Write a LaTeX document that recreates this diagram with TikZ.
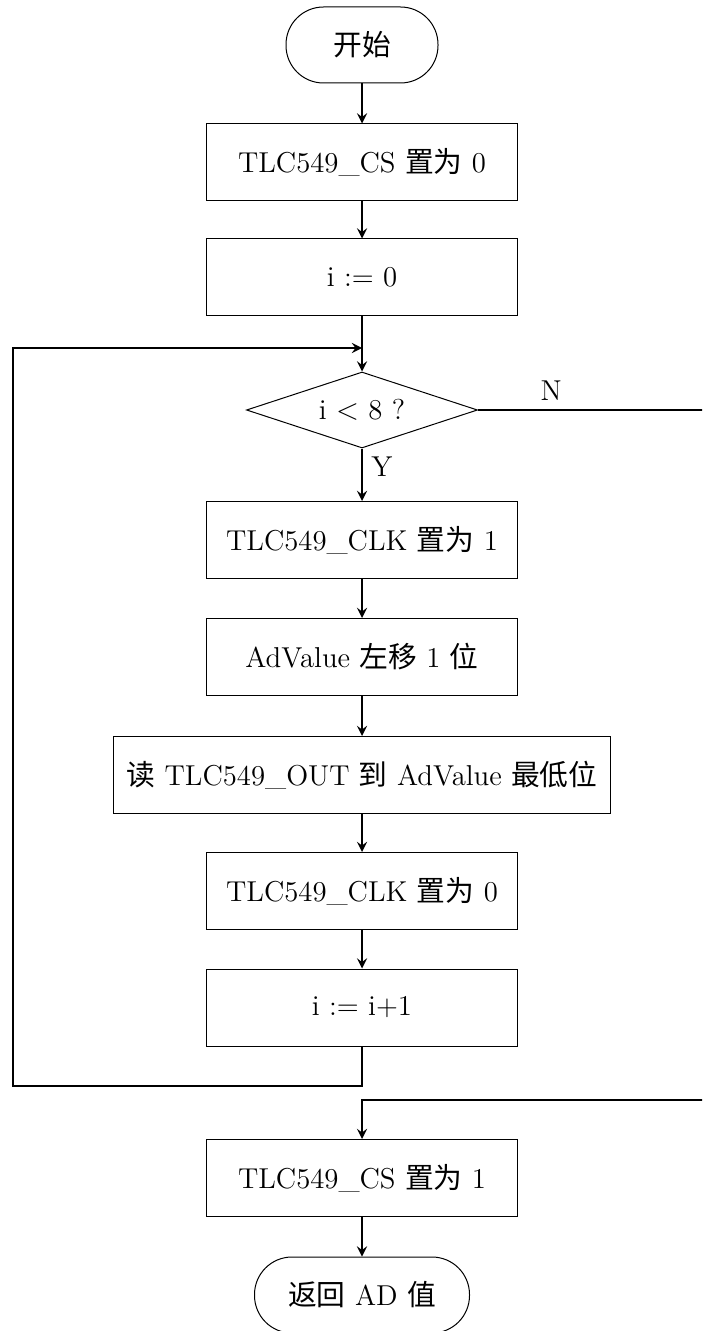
\documentclass[tikz,border=0pt]{standalone}
\usepackage{fontspec}
\newfontfamily\cjk{Noto Sans CJK SC}
\usetikzlibrary{shapes.geometric}

\begin{document}
\begin{tikzpicture}[x=0.4pt, y=-0.4pt, >=stealth,
  font=\fontsize{11.5}{14}\selectfont,
  proc/.style={rectangle, draw, thin, minimum width=124.4pt, minimum height=30.8pt},
  term/.style={rectangle, draw, thin, rounded corners=15pt, minimum height=30.4pt},
  decide/.style={diamond, draw, thin, shape aspect=3, inner sep=0pt, minimum width=92.4pt, minimum height=30.4pt},
  flow/.style={->, thick}]
  % \draw[gray, very thin, step=50] (0,0) grid (702,1331);
  \useasboundingbox (0,0) rectangle (702,1331);
  \clip (0,0) rectangle (702,1331);

  \node[term, minimum width=60.8pt] (start) at (362,45) {{\cjk 开始}};
  \node[proc] (cs0) at (362,162.5) {TLC549\_CS {\cjk 置为} 0};
  \node[proc] (init) at (362,277.5) {i := 0};
  \node[decide] (cond) at (362,410) {i $<$ 8 ?};
  \node[proc] (clk1) at (362,540) {TLC549\_CLK {\cjk 置为} 1};
  \node[proc] (shift) at (362,657) {AdValue {\cjk 左移} 1 {\cjk 位}};
  \node[proc, minimum width=198.8pt] (rd) at (362,775) {{\cjk 读} TLC549\_OUT {\cjk 到} AdValue {\cjk 最低位}};
  \node[proc] (clk0) at (362,891) {TLC549\_CLK {\cjk 置为} 0};
  \node[proc] (inc) at (362,1007.5) {i := i+1};
  \node[proc] (cs1) at (362,1178) {TLC549\_CS {\cjk 置为} 1};
  \node[term, minimum width=86pt] (stop) at (362,1295) {{\cjk 返回} AD {\cjk 值}};

  \coordinate (join) at (362,348);
  \coordinate (loopL) at (13,1086);
  \coordinate (exitR) at (730,410);
  \coordinate (exitB) at (362,1100);

  \draw[flow] (start) -- (cs0);
  \draw[flow] (cs0) -- (init);
  \draw[flow] (init) -- (cond);
  \draw[flow] (cond) -- node[right, pos=0.35] {Y} (clk1);
  \draw[flow] (clk1) -- (shift);
  \draw[flow] (shift) -- (rd);
  \draw[flow] (rd) -- (clk0);
  \draw[flow] (clk0) -- (inc);
  \draw[flow] (inc.south) |- (loopL) |- (join);
  \draw[flow] (cond.east) -- node[above, pos=0.29] {N} (exitR) |- (exitB) -- (cs1);
  \draw[flow] (cs1) -- (stop);
\end{tikzpicture}
\end{document}
